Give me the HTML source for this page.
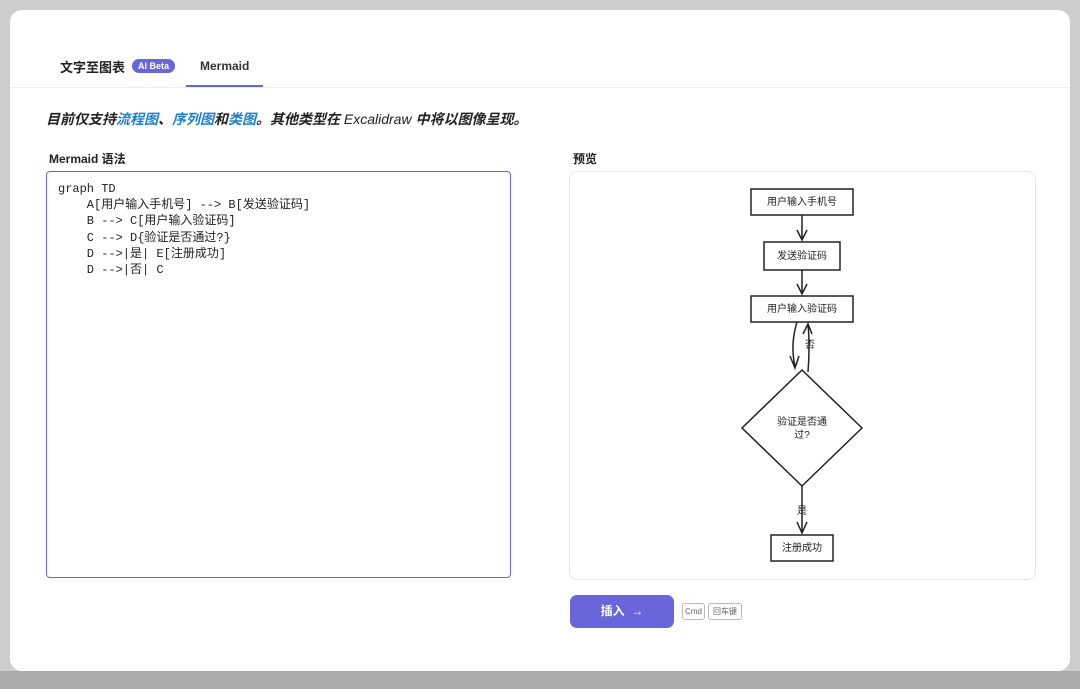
<!DOCTYPE html>
<html><head><meta charset="utf-8"><style>
body{margin:0;width:1080px;height:689px;background:#cdcdcd;position:relative;overflow:hidden;font-family:"Liberation Sans","Noto Sans CJK SC",sans-serif;}
.modal{position:absolute;left:10px;top:10px;width:1060px;height:661px;background:#fff;border-radius:12px;}
.a{position:absolute;}
</style></head><body>
<div class="a" style="left:0;top:671px;width:1080px;height:18px;background:#ababab"></div>
<div class="modal"></div>
<div class="a" style="left:60px;top:57px;font-size:13px;font-weight:bold;color:#222">文字至图表</div>
<div class="a" style="left:132px;top:59px;background:#6965db;color:#fff;font-size:9px;padding:2px 6px;border-radius:8px;font-weight:bold">AI Beta</div>
<div class="a" style="left:200px;top:59px;font-size:12px;font-weight:bold;color:#333">Mermaid</div>
<div class="a" style="left:10px;top:87px;width:1060px;height:1px;background:#eeeef5"></div>
<div class="a" style="left:186px;top:85px;width:77px;height:2px;background:#6965db"></div>
<div class="a" style="left:46px;top:109px;font-size:14px;font-weight:bold;font-style:italic;color:#222">目前仅支持<span style="color:#1c7ed6">流程图</span>、<span style="color:#1c7ed6">序列图</span>和<span style="color:#1c7ed6">类图</span>。其他类型在 <span style="font-weight:normal">Excalidraw</span> 中将以图像呈现。</div>
<div class="a" style="left:49px;top:150px;font-size:12px;font-weight:bold;color:#222">Mermaid 语法</div>
<div class="a" style="left:573px;top:150px;font-size:12px;font-weight:bold;color:#222">预览</div>
<div class="a" style="left:46px;top:171px;width:463px;height:405px;border:1.5px solid #6965db;border-radius:4px"></div>
<pre class="a" style="left:58px;top:181px;margin:0;font-family:'Liberation Mono','Noto Sans CJK SC',monospace;font-size:12px;line-height:16.2px;color:#222">graph TD
    A[用户输入手机号] --> B[发送验证码]
    B --> C[用户输入验证码]
    C --> D{验证是否通过?}
    D -->|是| E[注册成功]
    D -->|否| C</pre>
<div class="a" style="left:569px;top:171px;width:465px;height:407px;border:1px solid #e6e6ea;border-radius:8px"></div>
<svg class="a" style="left:0;top:0" width="1080" height="689" font-family="Liberation Sans,Noto Sans CJK SC,sans-serif" font-size="10" text-anchor="middle">
<g fill="none" stroke="#222" stroke-width="1.5">
<rect x="751" y="189" width="102" height="26"/>
<rect x="764" y="242" width="76" height="28"/>
<rect x="751" y="296" width="102" height="26"/>
<polygon points="802,370 862,428 802,486 742,428"/>
<rect x="771" y="535" width="62" height="26"/>
<path d="M802 215V240M797 230L802 240L807 230"/>
<path d="M802 270V294M797 284L802 294L807 284"/>
<path d="M797 322Q790 345 795 366M790 356L795 368L799 356"/>
<path d="M808 372Q810 345 808 324M803 334L808 324L812 334"/>
<path d="M802 486V533M797 522L802 533L807 522"/>
</g>
<g fill="#222">
<text x="802" y="205">用户输入手机号</text>
<text x="802" y="259">发送验证码</text>
<text x="802" y="312">用户输入验证码</text>
<text x="810" y="348">否</text>
<text x="802" y="425">验证是否通</text>
<text x="802" y="438">过?</text>
<text x="802" y="514">是</text>
<text x="802" y="551">注册成功</text>
</g>
</svg>
<div class="a" style="left:570px;top:595px;width:104px;height:33px;background:#6965db;border-radius:7px;color:#fff;font-size:12px;font-weight:bold;line-height:33px;text-align:center">插入 &nbsp;→</div>
<div class="a" style="left:682px;top:603px;width:21px;height:15px;border:1px solid #bbb;border-radius:3px;font-size:8px;color:#666;text-align:center;line-height:15px">Cmd</div>
<div class="a" style="left:708px;top:603px;width:32px;height:15px;border:1px solid #bbb;border-radius:3px;font-size:8px;color:#666;text-align:center;line-height:15px">回车键</div>
</body></html>
